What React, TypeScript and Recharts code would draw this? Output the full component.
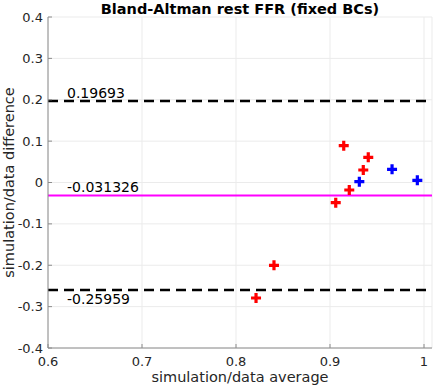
import React from 'react';
import { ScatterChart, Scatter, XAxis, YAxis, CartesianGrid, ReferenceLine } from 'recharts';

const titleText = 'Bland-Altman rest FFR (fixed BCs)';
const xLabel = 'simulation/data average';
const yLabel = 'simulation/data difference';

const redAvg = [0.9146, 0.9407, 0.9354, 0.9205, 0.9061, 0.8404, 0.8213];
const redDiff = [0.0889, 0.0609, 0.0302, -0.0181, -0.0488, -0.2001, -0.2791];
const blueAvg = [0.9312, 0.966, 0.9929];
const blueDiff = [0.0019, 0.0319, 0.0053];

const xTicks = [0.6, 0.7, 0.8, 0.9, 1.0];
const yTicks = [-0.4, -0.3, -0.2, -0.1, 0, 0.1, 0.2, 0.3, 0.4];
const xDomain = [0.6, 1.0085];
const yDomain = [-0.4, 0.4];

const upperLoA = 0.19693;
const meanDiff = -0.031326;
const lowerLoA = -0.25959;
const upperText = '0.19693';
const meanText = '-0.031326';
const lowerText = '-0.25959';

const redData = redAvg.map((x, i) => ({ x, y: redDiff[i] }));
const blueData = blueAvg.map((x, i) => ({ x, y: blueDiff[i] }));

const FONT = '"DejaVu Sans", sans-serif';
const BOX = '#8c8c8c';
const TXT = '#262626';

const plus = (color: string) => (props: any) => {
  const { cx, cy } = props;
  if (cx == null || cy == null) return null;
  return (
    <path
      d={`M${cx - 5},${cy}H${cx + 5}M${cx},${cy - 5}V${cy + 5}`}
      stroke={color}
      strokeWidth={3.2}
      fill="none"
    />
  );
};

const refLabel = (text: string, dy: number) => (props: any) => {
  const vb = props.viewBox || {};
  return (
    <text x={vb.x + 19} y={vb.y + dy} fontSize={14} fill="#000" fontFamily={FONT}>
      {text}
    </text>
  );
};

const fmt = (v: number) => {
  const r = Math.round(v * 10) / 10;
  if (r === 0) return '0';
  if (r === 1) return '1';
  return r.toFixed(1);
};

export default function App() {
  return (
    <div style={{ position: 'absolute', left: 0, top: 0, width: 434, height: 387, background: '#fff', fontFamily: FONT }}>
      <div
        style={{
          position: 'absolute',
          left: 40,
          width: 400,
          top: 0,
          textAlign: 'center',
          fontWeight: 'bold',
          fontSize: 14.5,
          lineHeight: '18px',
          color: '#000',
          fontFamily: FONT,
        }}
      >
        {titleText}
      </div>
      <ScatterChart
        width={434}
        height={387}
        margin={{ top: 17, right: 2, left: 0, bottom: 0 }}
        style={{ fontFamily: FONT }}
      >
        <CartesianGrid stroke="#ebebeb" strokeWidth={1} />
        <XAxis
          type="number"
          dataKey="x"
          domain={xDomain}
          ticks={xTicks}
          allowDataOverflow
          height={39}
          stroke={BOX}
          tickSize={-4}
          tickMargin={13}
          tickFormatter={fmt}
          tick={{ fill: TXT, fontSize: 13 }}
          label={{ value: xLabel, position: 'insideBottom', offset: 5, fill: TXT, fontSize: 14.5 }}
        />
        <YAxis
          type="number"
          dataKey="y"
          domain={yDomain}
          ticks={yTicks}
          allowDataOverflow
          width={48}
          stroke={BOX}
          tickSize={-4}
          tickMargin={9}
          tickFormatter={fmt}
          tick={{ fill: TXT, fontSize: 13 }}
          label={{ value: yLabel, angle: -90, position: 'insideLeft', offset: 9, fill: TXT, fontSize: 14.5, style: { textAnchor: 'middle' } }}
        />
        <XAxis
          xAxisId="top"
          orientation="top"
          type="number"
          dataKey="x"
          domain={xDomain}
          ticks={xTicks}
          allowDataOverflow
          height={0}
          stroke={BOX}
          tickSize={-4}
          tickFormatter={() => ''}
        />
        <YAxis
          yAxisId="right"
          orientation="right"
          type="number"
          dataKey="y"
          domain={yDomain}
          ticks={yTicks}
          allowDataOverflow
          width={0}
          stroke={BOX}
          tickSize={-4}
          tickFormatter={() => ''}
        />
        <Scatter data={[]} xAxisId="top" yAxisId="right" isAnimationActive={false} />
        <ReferenceLine
          y={upperLoA}
          stroke="#000"
          strokeWidth={2.5}
          strokeDasharray="10 6"
          label={{ content: refLabel(upperText, -3) }}
        />
        <ReferenceLine
          y={lowerLoA}
          stroke="#000"
          strokeWidth={2.5}
          strokeDasharray="10 6"
          label={{ content: refLabel(lowerText, 14) }}
        />
        <ReferenceLine
          y={meanDiff}
          stroke="#ff00ff"
          strokeWidth={2}
          label={{ content: refLabel(meanText, -3) }}
        />
        <Scatter data={redData} shape={plus('#ff0000')} isAnimationActive={false} />
        <Scatter data={blueData} shape={plus('#0000ff')} isAnimationActive={false} />
      </ScatterChart>
    </div>
  );
}
